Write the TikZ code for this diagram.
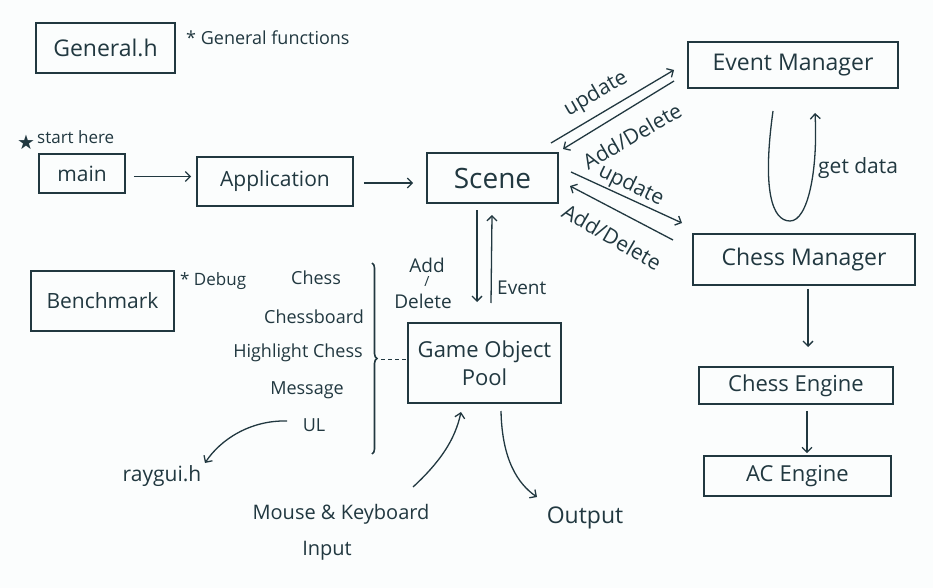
\documentclass[tikz,border=0pt]{standalone}
\usepackage{fontspec}
\setmainfont{Open Sans}
\newfontfamily\symfont{DejaVu Sans}
\usetikzlibrary{arrows.meta,decorations.pathreplacing}
\definecolor{ink}{RGB}{33,56,64}
\definecolor{paper}{RGB}{251,253,253}
\begin{document}
\begin{tikzpicture}[x=1pt,y=-1pt,
  every node/.style={text=ink},
  box/.style={draw=ink,line width=1.6pt,inner sep=0pt},
  con/.style={draw=ink,line width=1.3pt,-{Straight Barb[length=5pt,width=10pt]}},
  fA/.style={font=\fontsize{22}{26}\selectfont},
  fL/.style={font=\fontsize{23}{27}\selectfont},
  fB/.style={font=\fontsize{18}{21}\selectfont},
  fR/.style={font=\fontsize{21}{24}\selectfont},
  fC/.style={font=\fontsize{17}{20}\selectfont},
  lbl/.style={inner sep=0pt}
]
\fill[paper] (0,0) rectangle (933,588);
\useasboundingbox (0,0) rectangle (933,588);

% boxes
\node[box,fL,minimum width=139pt,minimum height=50pt] (gen) at (105.5,48) {General.h};
\node[box,font=\fontsize{21}{25}\selectfont,minimum width=86pt,minimum height=39pt] (main) at (82,173.5) {main};
\node[box,font=\fontsize{21}{25}\selectfont,minimum width=156pt,minimum height=49pt] (app) at (275,181.5) {Application};
\node[box,font=\fontsize{28}{32}\selectfont,minimum width=131pt,minimum height=50pt] (scene) at (492.5,178) {Scene};
\node[box,fL,minimum width=210pt,minimum height=46pt] (em) at (793,65) {Event Manager};
\node[box,fL,minimum width=222pt,minimum height=51pt] (cm) at (804,259.5) {Chess Manager};
\node[box,fA,minimum width=153pt,minimum height=80pt,align=center] (gop) at (484.5,363) {Game Object\\[2pt]Pool};
\node[box,fA,minimum width=194pt,minimum height=37pt] (ce) at (796,385.5) {Chess Engine};
\node[box,fA,minimum width=187pt,minimum height=40pt] (ac) at (797.5,476) {AC\hspace{6pt}Engine};
\node[box,font=\fontsize{21}{25}\selectfont,minimum width=143pt,minimum height=60pt] (bench) at (102.5,301) {Benchmark};

% notes
\node[lbl,fB,anchor=west] (genn) at (186,38) {* General functions};
\node[lbl,font=\symfont\fontsize{20}{22}\selectfont] (star) at (26,142) {★};
\node[lbl,fC,anchor=west] (start) at (37,137) {start here};
\node[lbl,font=\fontsize{17}{20}\selectfont,anchor=west] (dbg) at (180,281) {* Debug};

% list
\node[lbl,fB] (l1) at (316,278) {Chess};
\node[lbl,fB] (l2) at (314,317) {Chessboard};
\node[lbl,fB] (l3) at (298,353) {Highlight Chess};
\node[lbl,fB] (l4) at (307,390) {Message};
\node[lbl,fB] (l5) at (314,425) {UL};
\node[lbl,fR] (ray) at (162,476) {raygui.h};
\node[lbl,font=\fontsize{20}{24}\selectfont] (mk) at (341,514) {Mouse \& Keyboard};
\node[lbl,font=\fontsize{20}{24}\selectfont] (inp) at (327,551) {Input};
\node[lbl,fL] (out) at (585,518) {Output};

% main flow
\draw[con] ([xshift=8pt,yshift=-3pt]main.east) -- ([xshift=-5pt,yshift=-3pt]main.east -| app.west);
\draw[con] ([xshift=10pt,yshift=-1.5pt]app.east) -- ([xshift=-13pt,yshift=-1.5pt]app.east -| scene.west);

% scene <-> event manager
\coordinate (s1) at (551,143); \coordinate (e1) at (674,70);
\coordinate (e2) at (674,81);  \coordinate (s2) at (563,149);
\draw[con] (s1) -- (e1);
\draw[con] (e2) -- (s2);
\node[lbl,fR,rotate=30] (u1) at (596,94) {update};
\node[lbl,fR,rotate=30] (a1) at (632,136) {Add/Delete};

% scene <-> chess manager
\coordinate (s3) at (571,172); \coordinate (c3) at (682,223);
\coordinate (c4) at (673,240); \coordinate (s4) at (570,186);
\draw[con] (s3) -- (c3);
\draw[con] (c4) -- (s4);
\node[lbl,fR,rotate=-26] (u2) at (631,186) {update};
\node[lbl,fR,rotate=-30] (a2) at (612,237) {Add/Delete};

% get data loop
\coordinate (g1) at (773,111); \coordinate (g2) at (815,113);
\draw[con] (g1) .. controls (762,190) and (772,221) .. (790,221)
  .. controls (808,221) and (818,170) .. (g2);
\node[lbl,fR,anchor=west] (gd) at (818,168) {get data};

% scene <-> game object pool
\coordinate (d1) at (477,210); \coordinate (d2) at (477,302);
\coordinate (v1) at (491,303); \coordinate (v2) at (492,215);
\draw[con] (d1) -- (d2);
\draw[con] (v1) -- (v2);
\node[lbl,font=\fontsize{19}{19}\selectfont] (add) at (427,265) {Add};
\node[lbl,font=\fontsize{14}{16}\selectfont] (slash) at (427,282) {/};
\node[lbl,font=\fontsize{19}{19}\selectfont] (del) at (423,301) {Delete};
\node[lbl,font=\fontsize{19}{22}\selectfont,anchor=west] (ev) at (497,288) {Event};

% chess manager -> engines
\draw[con] ([xshift=4pt,yshift=-3pt]cm.south) -- ([xshift=4pt]cm.south |- 0,347);
\draw[con] ([xshift=11pt,yshift=-6pt]ce.south) -- ([xshift=11pt,yshift=2pt]ce.south |- ac.north);

% brace and dashed link
\draw[ink,line width=1.6pt,decorate,decoration={brace,amplitude=5pt}] (372,263) -- (372,454);
\draw[ink,line width=1pt,dash pattern=on 4pt off 3pt] (381,359) -- (gop.west |- 0,359);

% curved arrows
\draw[con] (287,421) .. controls (250,420) and (220,440) .. (205,463);
\draw[con] (413,487) .. controls (440,462) and (455,440) .. (461,412);
\draw[con] (501,411) .. controls (502,460) and (518,484) .. (537,497);
\end{tikzpicture}
\end{document}
